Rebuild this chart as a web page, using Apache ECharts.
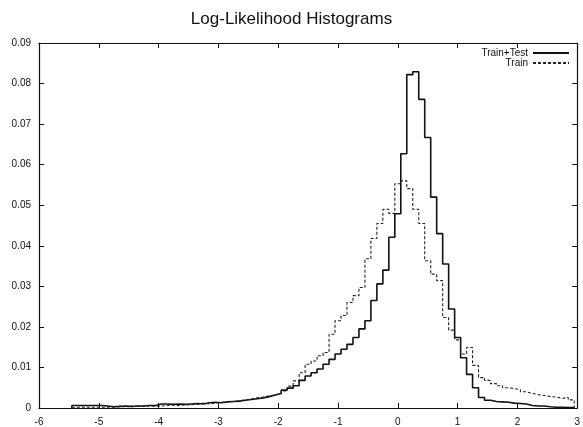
<!DOCTYPE html>
<html>
<head>
<meta charset="utf-8">
<script src="https://cdn.jsdelivr.net/npm/echarts@6/dist/echarts.min.js"></script>
<style>html,body{margin:0;padding:0;background:#fff;}#c{width:583px;height:427px;}</style>
</head>
<body>
<div id="c"></div>
<script>
// Bin centers from -5.4 to 2.9 in steps of 0.1
var binCenters = [-5.4,-5.3,-5.2,-5.1,-5.0,-4.9,-4.8,-4.7,-4.6,-4.5,-4.4,-4.3,-4.2,-4.1,-4.0,-3.9,-3.8,-3.7,-3.6,-3.5,-3.4,-3.3,-3.2,-3.1,-3.0,-2.9,-2.8,-2.7,-2.6,-2.5,-2.4,-2.3,-2.2,-2.1,-2.0,-1.9,-1.8,-1.7,-1.6,-1.5,-1.4,-1.3,-1.2,-1.1,-1.0,-0.9,-0.8,-0.7,-0.6,-0.5,-0.4,-0.3,-0.2,-0.1,0.0,0.1,0.2,0.3,0.4,0.5,0.6,0.7,0.8,0.9,1.0,1.1,1.2,1.3,1.4,1.5,1.6,1.7,1.8,1.9,2.0,2.1,2.2,2.3,2.4,2.5,2.6,2.7,2.8,2.9];
var binWidth = 0.1;

var trainTest = [0.0006,0.0006,0.0006,0.0006,0.0006,0.0005,0.0003,0.0004,0.0005,0.0004,0.0005,0.0005,0.0006,0.0006,0.0010,0.0010,0.0009,0.0010,0.0009,0.0010,0.0011,0.0010,0.0013,0.0014,0.0013,0.0015,0.0016,0.0017,0.0019,0.0021,0.0023,0.0025,0.0028,0.0032,0.0036,0.0044,0.0049,0.0055,0.0068,0.0079,0.0087,0.0096,0.0108,0.0120,0.0133,0.0145,0.0157,0.0174,0.0195,0.0215,0.0265,0.0306,0.0340,0.0421,0.0479,0.0627,0.0822,0.0829,0.0761,0.0667,0.0520,0.0430,0.0355,0.0244,0.0174,0.0124,0.0083,0.0050,0.0026,0.0019,0.0016,0.0015,0.0014,0.0012,0.0011,0.0010,0.0006,0.0005,0.0005,0.0003,0.0002,0.0002,0.0001,0.0001];

var train = [0.0002,0.0002,0.0002,0.0002,0.0002,0.0002,0.0002,0.0003,0.0003,0.0003,0.0004,0.0004,0.0005,0.0004,0.0005,0.0006,0.0007,0.0006,0.0008,0.0008,0.0009,0.0012,0.0010,0.0012,0.0014,0.0015,0.0016,0.0018,0.0020,0.0022,0.0025,0.0027,0.0030,0.0032,0.0036,0.0042,0.0054,0.0067,0.0087,0.0108,0.0116,0.0129,0.0137,0.0182,0.0215,0.0228,0.0260,0.0277,0.0297,0.0368,0.0418,0.0455,0.0490,0.0480,0.0553,0.0560,0.0541,0.0490,0.0455,0.0363,0.0330,0.0314,0.0223,0.0192,0.0168,0.0133,0.0149,0.0105,0.0075,0.0068,0.0060,0.0055,0.0050,0.0048,0.0045,0.0040,0.0036,0.0033,0.0031,0.0028,0.0027,0.0024,0.0026,0.0020];

var xTicks = [-6,-5,-4,-3,-2,-1,0,1,2,3];
var yTicks = [0,0.01,0.02,0.03,0.04,0.05,0.06,0.07,0.08,0.09];

function stepData(centers, vals) {
  var h = binWidth / 2;
  var pts = [[+(centers[0] - h).toFixed(3), 0]];
  for (var i = 0; i < centers.length; i++) {
    pts.push([+(centers[i] - h).toFixed(3), vals[i]]);
  }
  var last = centers[centers.length - 1] + h;
  pts.push([+last.toFixed(3), vals[vals.length - 1]]);
  pts.push([+last.toFixed(3), 0]);
  return pts;
}

var FONT = 'Liberation Sans';
var chart = echarts.init(document.getElementById('c'), null, {renderer: 'canvas'});
function axisCommon() {
  return {
    axisLine: {show: true, onZero: false, lineStyle: {color: '#111', width: 1.2}},
    axisTick: {show: true, inside: true, length: 5, lineStyle: {color: '#111', width: 1}},
    splitLine: {show: false}
  };
}
var legendCommon = {
  right: 13, align: 'right', orient: 'vertical',
  itemWidth: 36, itemHeight: 8, itemGap: 2, padding: 0,
  itemStyle: {opacity: 0},
  textStyle: {fontFamily: FONT, fontSize: 10, color: '#111'}
};
chart.setOption({
  animation: false,
  backgroundColor: '#fff',
  title: {
    text: 'Log-Likelihood Histograms',
    left: 'center', top: 6,
    textStyle: {fontFamily: FONT, fontSize: 17, fontWeight: 'normal', color: '#111'}
  },
  legend: [
    Object.assign({data: ['Train+Test'], top: 48}, legendCommon),
    Object.assign({data: ['Train'], top: 58}, legendCommon)
  ],
  grid: {left: 39, right: 4, top: 43, bottom: 18},
  xAxis: [Object.assign({
    type: 'value', min: xTicks[0], max: xTicks[xTicks.length - 1], interval: 1,
    position: 'bottom',
    axisLabel: {fontFamily: FONT, fontSize: 10, color: '#111', margin: 9,
      formatter: function (v) { return xTicks.indexOf(v) >= 0 ? String(v) : ''; }}
  }, axisCommon()), Object.assign({
    type: 'value', min: xTicks[0], max: xTicks[xTicks.length - 1], interval: 1,
    position: 'top', axisLabel: {show: false}
  }, axisCommon())],
  yAxis: [Object.assign({
    type: 'value', min: yTicks[0], max: yTicks[yTicks.length - 1], interval: 0.01,
    position: 'left',
    axisLabel: {fontFamily: FONT, fontSize: 10, color: '#111', margin: 8,
      formatter: function (v) { return v === 0 ? '0' : v.toFixed(2); }}
  }, axisCommon()), Object.assign({
    type: 'value', min: yTicks[0], max: yTicks[yTicks.length - 1], interval: 0.01,
    position: 'right', axisLabel: {show: false}
  }, axisCommon())],
  series: [{
    name: 'Train+Test', type: 'line', step: 'end', symbol: 'none',
    data: stepData(binCenters, trainTest),
    lineStyle: {color: '#111', width: 1.6, type: 'solid'},
    itemStyle: {color: '#111'}
  }, {
    name: 'Train', type: 'line', step: 'end', symbol: 'none',
    data: stepData(binCenters, train),
    lineStyle: {color: '#222', width: 1.1, type: [3, 2]},
    itemStyle: {color: '#222'}
  }]
});
</script>
</body>
</html>
